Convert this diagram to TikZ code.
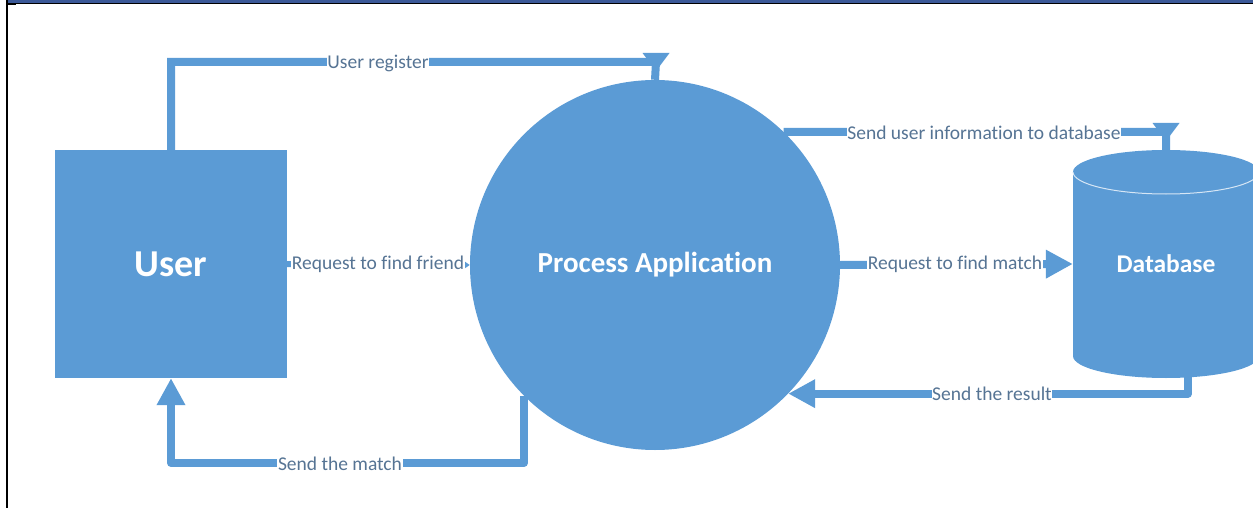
\documentclass[tikz,border=0pt]{standalone}
\usepackage{fontspec}
\setmainfont{Carlito}[Ligatures=NoCommon]
\usetikzlibrary{arrows.meta,calc}
\definecolor{dfd}{HTML}{5B9BD5}
\definecolor{labc}{RGB}{86,116,148}
\definecolor{topband}{RGB}{59,89,152}
\tikzset{
  conn/.style={draw=dfd, line width=8pt, line join=round},
  lab/.style={fill=white, text=labc, inner sep=0.6pt, font=\fontsize{19.5}{22}\selectfont},
  title/.style={text=white, font=\bfseries},
  bigtip/.style={-{Triangle[length=27pt,width=27pt]}},
}
\begin{document}
\begin{tikzpicture}[x=1pt,y=-1pt]
\useasboundingbox (0,0) rectangle (1253,508);
% frame
\fill[topband] (6,0) rectangle (1253,2.6);
\draw[black, line width=1pt] (6,3.2) -- (1253,3.2);
\fill[black] (6,2.6) rectangle (16,5);
\draw[black, line width=2pt] (7,0) -- (7,508);

% shapes
\node[fill=dfd, minimum width=232pt, minimum height=228pt, inner sep=0, title,
      font=\bfseries\fontsize{38}{40}\selectfont] (user) at (171,264) {User};
\node[circle, fill=dfd, minimum size=370pt, inner sep=0, title,
      font=\bfseries\fontsize{29}{32}\selectfont] (proc) at (655,265) {Process Application};
% database cylinder
\fill[dfd] (1073,172) rectangle (1259,356);
\fill[dfd] (1166,356) ellipse [x radius=93pt, y radius=22pt];
\fill[dfd] (1166,172) ellipse [x radius=93pt, y radius=22pt];
\draw[white!75!dfd, line width=1pt] (1073,172) arc[start angle=180, end angle=360, x radius=93pt, y radius=22pt];
\node[minimum width=186pt, minimum height=228pt, inner sep=0, title,
      font=\bfseries\fontsize{25.5}{28}\selectfont] (db) at (1166,264) {Database};

% connectors
\coordinate (ur) at (656,62);
\draw[conn, line join=miter] (user.north) |- (ur) -- (proc.north);
\fill[dfd] ($(ur)+(-13.5,-9)$) -- ($(ur)+(13.5,-9)$) -- ($(ur)+(0,9)$) -- cycle;

\coordinate (ui) at (1166,132);
\draw[conn, line join=miter] (proc.46) -- (ui) -- (db.north);
\fill[dfd] ($(ui)+(-13.5,-9)$) -- ($(ui)+(13.5,-9)$) -- ($(ui)+(0,9)$) -- cycle;

\draw[conn, line width=6pt, -{Triangle[length=7pt,width=9pt]}] (user.east) -- (proc.west);
\draw[conn, bigtip] (proc.east) -- (db.west);

\coordinate (rs) at ($(db.south)+(22,-4)$);
\draw[conn, bigtip] (rs) |- (proc.-44);

\coordinate (sm) at ($(proc.-135)+(0,67)$);
\draw[conn, bigtip] (proc.-135) -- (sm) -| (user.south);

% labels
\node[lab] (l1) at (378,63) {User register};
\node[lab] (l2) at (984,133) {Send user information to database};
\node[lab] (l3) at (378,264) {Request to find friend};
\node[lab] (l4) at (955,264) {Request to find match};
\node[lab] (l5) at (992,394) {Send the result};
\node[lab] (l6) at (340,464) {Send the match};
\end{tikzpicture}
\end{document}
